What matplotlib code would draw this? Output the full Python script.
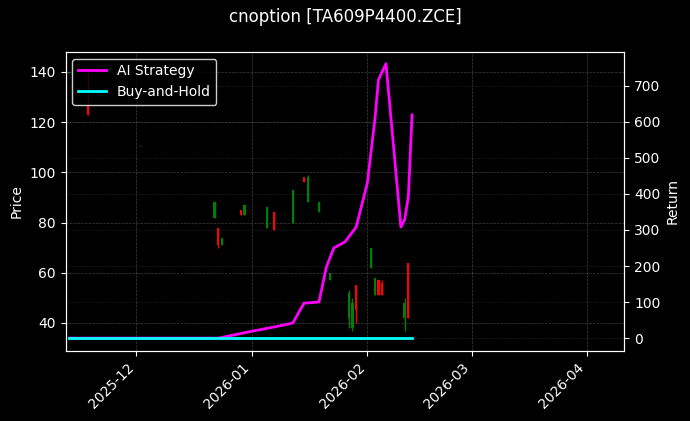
import matplotlib
matplotlib.use("Agg")
import matplotlib.pyplot as plt
import matplotlib.dates as mdates
import pandas as pd

# candles: date, open, high, low, close
candle_dates = ["2025-11-13", "2025-11-18", "2025-12-02", "2025-12-22", "2025-12-23", "2025-12-24",
                "2025-12-29", "2025-12-30", "2026-01-05", "2026-01-07", "2026-01-12", "2026-01-15",
                "2026-01-16", "2026-01-19", "2026-01-22", "2026-01-27", "2026-01-28", "2026-01-29",
                "2026-02-02", "2026-02-03", "2026-02-04", "2026-02-05", "2026-02-11", "2026-02-12"]
opens = [139.5, 127, 110.8, 82, 78, 71, 85, 83, 78, 84, 80, 98, 88, 84, 57, 42, 38, 55, 62, 51, 57, 56, 42, 64]
highs = [140, 140, 111, 88, 78, 74, 85, 87, 86, 84, 93, 98, 99, 88, 60, 53, 50, 55, 70, 58, 57, 57, 50, 64]
lows = [139.5, 123, 110.5, 82, 70, 71, 83, 83, 78, 77, 80, 96, 88, 84, 57, 38, 37, 40, 62, 51, 51, 51, 37, 42]
closes = [140, 123, 111, 88, 71, 74, 83, 87, 86, 77, 93, 96, 98, 88, 60, 52, 48, 45, 70, 58, 51, 51, 48, 42]

ret_dates = ["2025-11-13", "2025-12-23", "2025-12-31", "2026-01-08", "2026-01-12", "2026-01-15",
             "2026-01-19", "2026-01-21", "2026-01-23", "2026-01-26", "2026-01-29", "2026-02-01",
             "2026-02-03", "2026-02-04", "2026-02-06", "2026-02-10", "2026-02-11", "2026-02-12",
             "2026-02-13"]
ai_ret = [0, 0, 17, 33, 42, 97, 100, 197, 250, 267, 308, 430, 605, 717, 761, 308, 328, 392, 619]
bh_dates = ["2025-11-13", "2026-02-13"]
bh_ret = [0, 0]

plt.rcParams["font.family"] = "DejaVu Sans"
fig, ax = plt.subplots(figsize=(6.9, 4.21), dpi=100)
fig.patch.set_facecolor("black")
ax.set_facecolor("black")

cd = pd.to_datetime(candle_dates)
for d, o, h, l, c in zip(cd, opens, highs, lows, closes):
    col = "green" if c >= o else "red"
    ax.vlines(d, l, h, color=col, linewidth=1)
    ax.bar(d, abs(c - o), bottom=min(o, c), width=0.6, color=col)

ax.set_ylim(28.8, 148)
ax.set_xlim(pd.Timestamp("2025-11-12"), pd.Timestamp("2026-04-11"))
ax.set_ylabel("Price", color="white")
ax.xaxis.set_major_locator(mdates.MonthLocator())
ax.xaxis.set_major_formatter(mdates.DateFormatter("%Y-%m"))
plt.setp(ax.get_xticklabels(), rotation=45, ha="right")
ax.grid(True, color="gray", linestyle="--", linewidth=0.5, alpha=0.5)

ax2 = ax.twinx()
ax2.plot(pd.to_datetime(ret_dates), ai_ret, color="magenta", linewidth=2, label="AI Strategy")
ax2.plot(pd.to_datetime(bh_dates), bh_ret, color="cyan", linewidth=2, label="Buy-and-Hold")
ax2.set_ylim(-36, 794)
ax2.set_ylabel("Return", color="white")
ax2.grid(True, color="gray", linestyle=":", linewidth=0.5, alpha=0.4)

for a in (ax, ax2):
    a.tick_params(colors="white")
    for s in a.spines.values():
        s.set_color("white")

leg = ax2.legend(loc="upper left", facecolor="black", edgecolor="white", labelcolor="white")
fig.suptitle("cnoption [TA609P4400.ZCE]", color="white")
fig.subplots_adjust(left=0.095, right=0.905, top=0.877, bottom=0.166)
fig.savefig("out.png", facecolor="black")
